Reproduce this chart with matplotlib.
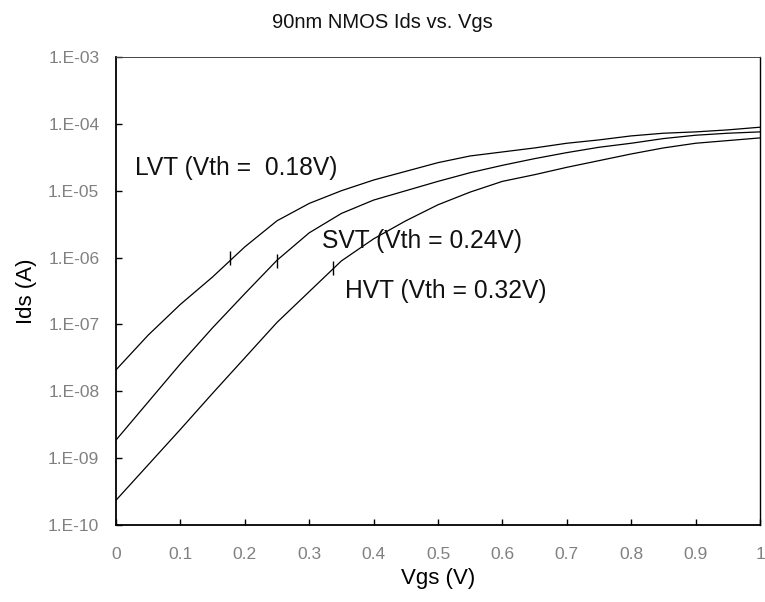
import matplotlib
matplotlib.use("Agg")
import matplotlib.pyplot as plt
import numpy as np

plt.rcParams['font.family'] = ['Liberation Sans', 'DejaVu Sans']

vgs = [0.0, 0.05, 0.1, 0.15, 0.2, 0.25, 0.3, 0.35, 0.4, 0.45, 0.5,
       0.55, 0.6, 0.65, 0.7, 0.75, 0.8, 0.85, 0.9, 0.95, 1.0]
lvt_log = [-7.68, -7.16, -6.70, -6.29, -5.84, -5.45, -5.19, -5.00, -4.84, -4.71, -4.58,
           -4.48, -4.42, -4.36, -4.29, -4.24, -4.18, -4.14, -4.12, -4.09, -4.05]
svt_log = [-8.73, -8.16, -7.59, -7.05, -6.54, -6.04, -5.63, -5.34, -5.14, -5.00, -4.86,
           -4.73, -4.62, -4.52, -4.43, -4.35, -4.29, -4.22, -4.17, -4.14, -4.12]
hvt_log = [-9.63, -9.10, -8.57, -8.03, -7.50, -6.97, -6.51, -6.05, -5.72, -5.45, -5.21,
           -5.02, -4.86, -4.76, -4.65, -4.55, -4.45, -4.36, -4.29, -4.25, -4.21]

vth_x = [0.177, 0.25, 0.337]
vth_y = [1.0e-6, 8.8e-7, 7.0e-7]

labels = ["LVT (Vth =  0.18V)", "SVT (Vth = 0.24V)", "HVT (Vth = 0.32V)"]
label_x = [0.03, 0.32, 0.356]
label_y = [2.2e-5, 1.8e-6, 3.2e-7]

yticks = [1e-10, 1e-9, 1e-8, 1e-7, 1e-6, 1e-5, 1e-4, 1e-3]
ytick_labels = ["1.E-10", "1.E-09", "1.E-08", "1.E-07", "1.E-06", "1.E-05", "1.E-04", "1.E-03"]
xticks = [0, 0.1, 0.2, 0.3, 0.4, 0.5, 0.6, 0.7, 0.8, 0.9, 1.0]
xtick_labels = ["0", "0.1", "0.2", "0.3", "0.4", "0.5", "0.6", "0.7", "0.8", "0.9", "1"]

fig = plt.figure(figsize=(7.65, 6.02), dpi=100)
ax = fig.add_axes([0.1516, 0.1279, 0.8419, 0.7774])

for series in (lvt_log, svt_log, hvt_log):
    ax.plot(vgs, np.power(10.0, series), color='black', lw=0.9)

ax.plot(vth_x, vth_y, linestyle='none', marker='|', markersize=10, color='black', mew=1.0)

for t, x, y in zip(labels, label_x, label_y):
    ax.text(x, y, t, fontsize=17.7, ha='left', va='center', color='#111111')

ax.set_yscale('log')
ax.set_xlim(0, 1)
ax.set_ylim(1e-10, 1e-3)
ax.set_yticks(yticks)
ax.set_yticklabels(ytick_labels)
ax.minorticks_off()
ax.set_xticks(xticks)
ax.set_xticklabels(xtick_labels)
ax.tick_params(axis='both', direction='in', length=4, width=1.0, labelsize=12.5,
               labelcolor='#808080', color='black')
ax.tick_params(axis='x', pad=16)
ax.tick_params(axis='y', pad=12)

ax.spines['left'].set_linewidth(1.3)
ax.spines['bottom'].set_linewidth(1.3)
ax.spines['right'].set_linewidth(1.0)
ax.spines['top'].set_linewidth(0.7)
ax.spines['top'].set_color('#444444')

ax.set_xlabel("Vgs (V)", fontsize=16, labelpad=4)
ax.set_ylabel("Ids (A)", fontsize=16, labelpad=8)
fig.text(0.5, 0.962, "90nm NMOS Ids vs. Vgs", fontsize=14.5, ha='center', va='center',
         color='#111111')

fig.savefig("out.png", dpi=100)
